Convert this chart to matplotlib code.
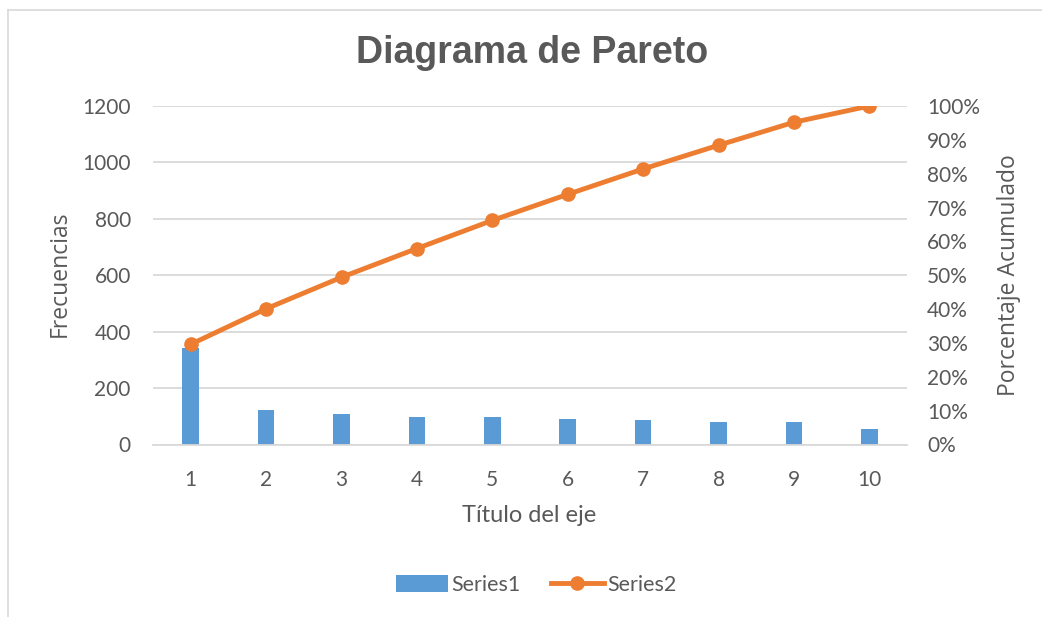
import matplotlib
matplotlib.use("Agg")
import matplotlib.pyplot as plt
from matplotlib.lines import Line2D
from matplotlib.patches import Patch

categories = ["1", "2", "3", "4", "5", "6", "7", "8", "9", "10"]
frecuencias = [343, 122, 108, 99, 96, 89, 87, 81, 79, 56]
porcentaje = [29.6, 40.1, 49.4, 57.9, 66.2, 73.9, 81.4, 88.4, 95.2, 100.0]
left_ticks = [0, 200, 400, 600, 800, 1000, 1200]
right_ticks = [0, 10, 20, 30, 40, 50, 60, 70, 80, 90, 100]

TXT = "#595959"
BLUE = "#5B9BD5"
ORANGE = "#ED7D31"
GRID = "#D9D9D9"
TICKFONT = ["Lato", "DejaVu Sans"]
LABFONT = ["Open Sans", "DejaVu Sans"]

fig = plt.figure(figsize=(10.42, 6.17), dpi=100)
W, H = 1042, 617
# plot area in pixels: x 153..907, y 106..444.5
ax = fig.add_axes([153 / W, 1 - 444.5 / H, (907 - 153) / W, (444.5 - 106) / H])
x = list(range(1, len(categories) + 1))
ax.bar(x, frecuencias, width=0.22, color=BLUE, zorder=2)
ax.set_xlim(0.5, len(categories) + 0.5)
ax.set_ylim(0, 1200)
ax.set_yticks(left_ticks)
ax.set_yticklabels([str(v) for v in left_ticks], family=TICKFONT, fontsize=15, color=TXT)
ax.set_xticks(x)
ax.set_xticklabels(categories, family=TICKFONT, fontsize=15, color=TXT)
ax.tick_params(axis="y", length=0, pad=16)
ax.tick_params(axis="x", length=0, pad=18)
ax.grid(axis="y", color=GRID, linewidth=1.3, zorder=0)
for s in ["top", "right", "left"]:
    ax.spines[s].set_visible(False)
ax.spines["bottom"].set_color(GRID)
ax.spines["bottom"].set_linewidth(1.3)
ax.set_axisbelow(True)

ax2 = ax.twinx()
ax2.plot(x, porcentaje, color=ORANGE, linewidth=3.5, marker="o", markersize=9.5,
         zorder=3, solid_capstyle="round")
ax2.set_ylim(0, 100)
ax2.set_yticks(right_ticks)
ax2.set_yticklabels([f"{v}%" for v in right_ticks], family=TICKFONT, fontsize=15, color=TXT)
ax2.tick_params(axis="y", length=0, pad=14.5)
for s in ax2.spines.values():
    s.set_visible(False)

fig.text(60 / W, 1 - 274 / H, "Frecuencias", rotation=90, ha="center", va="center",
         family=LABFONT, fontsize=16.5, color=TXT)
fig.text(1009 / W, 1 - 275 / H, "Porcentaje Acumulado", rotation=90, ha="center", va="center",
         family=LABFONT, fontsize=16.5, color=TXT)
fig.text(529 / W, 1 - 516 / H, "Título del eje", ha="center", va="center",
         family=TICKFONT, fontsize=17, color=TXT)
fig.text(532 / W, 1 - 53 / H, "Diagrama de Pareto", ha="center", va="center",
         family=["Liberation Sans", "DejaVu Sans"], fontweight="bold", fontsize=27, color=TXT)

handles = [Patch(facecolor=BLUE, edgecolor="none"),
           Line2D([0], [0], color=ORANGE, linewidth=3.5, marker="o", markersize=9.5)]
leg = fig.legend(handles, ["Series1", "Series2"], loc="center", bbox_to_anchor=(536 / W, 1 - 585 / H),
                 ncol=2, frameon=False, prop={"family": TICKFONT, "size": 15.5},
                 handlelength=2.45, handletextpad=0.15, columnspacing=1.4, handleheight=0.85)
for t in leg.get_texts():
    t.set_color(TXT)

# chart border (top and left edges visible)
fig.add_artist(Line2D([8 / W, 8 / W], [0, 1 - 10 / H], transform=fig.transFigure,
                      color="#D9D9D9", linewidth=1.2))
fig.add_artist(Line2D([8 / W, 1], [1 - 10 / H, 1 - 10 / H], transform=fig.transFigure,
                      color="#D9D9D9", linewidth=1.2))

fig.savefig("out.png", dpi=100, facecolor="white")
